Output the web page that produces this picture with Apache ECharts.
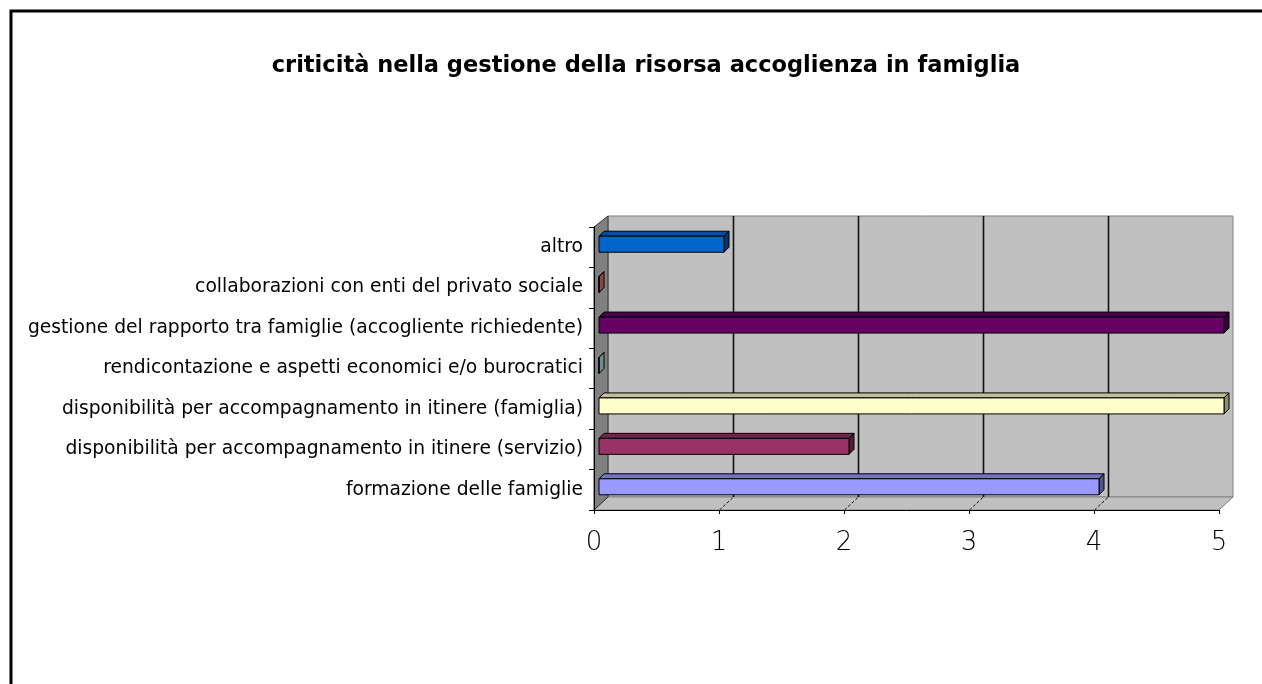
<!DOCTYPE html>
<html>
<head>
<meta charset="utf-8">
<script src="https://cdn.jsdelivr.net/npm/echarts@6.0.0/dist/echarts.min.js"></script>
<style>
  html, body { margin: 0; padding: 0; background: #fff; }
  #chart { width: 1262px; height: 684px; }
</style>
</head>
<body>
<div id="chart"></div>
<script>
// categories from top to bottom, as in the picture
var categories = [
  'altro',
  'collaborazioni con enti del privato sociale',
  'gestione del rapporto tra famiglie (accogliente richiedente)',
  'rendicontazione e aspetti economici e/o burocratici',
  'disponibilità per accompagnamento in itinere (famiglia)',
  'disponibilità per accompagnamento in itinere (servizio)',
  'formazione delle famiglie'
];
var values = [1, 0, 5, 0, 5, 2, 4];
var barColors = ['#0066CC', '#FF8080', '#660066', '#CCFFFF', '#FFFFCC', '#993366', '#9999FF'];
var xTicks = [0, 1, 2, 3, 4, 5];

var titleText = 'criticità nella gestione della risorsa accoglienza in famiglia';

// depth of the 3d box and of the bars
var DX = 14, DYT = -11, DYB = -13;
var BAR_D = 5, BAR_H = 16;

function shade(hex, f) {
  var n = parseInt(hex.slice(1), 16);
  var r = Math.round(((n >> 16) & 255) * f);
  var g = Math.round(((n >> 8) & 255) * f);
  var b = Math.round((n & 255) * f);
  return 'rgb(' + r + ',' + g + ',' + b + ')';
}

function renderWall(params, api) {
  var cs = params.coordSys;
  var L = cs.x, T = cs.y, R = cs.x + cs.width, B = cs.y + cs.height;
  var children = [];
  // back wall
  children.push({
    type: 'polygon',
    shape: { points: [[L + DX, T + DYT], [R + DX, T + DYT], [R + DX, B + DYB], [L + DX, B + DYB]] },
    style: { fill: '#C0C0C0', stroke: '#808080', lineWidth: 1 }
  });
  // floor
  children.push({
    type: 'polygon',
    shape: { points: [[L, B], [L + DX, B + DYB], [R + DX, B + DYB], [R, B]] },
    style: { fill: '#C0C0C0', stroke: '#808080', lineWidth: 1 }
  });
  // side wall
  children.push({
    type: 'polygon',
    shape: { points: [[L, T], [L + DX, T + DYT], [L + DX, B + DYB], [L, B]] },
    style: { fill: '#808080', stroke: '#333', lineWidth: 1 }
  });
  xTicks.forEach(function (t) {
    if (t <= 0 || t >= xTicks[xTicks.length - 1]) return;
    var x = Math.round(api.coord([t, 0])[0]) + 0.5;
    children.push({
      type: 'line',
      shape: { x1: x + DX, y1: T + DYT, x2: x + DX, y2: B + DYB },
      style: { stroke: '#111', lineWidth: 1.6 }
    });
    children.push({
      type: 'line',
      shape: { x1: x, y1: B, x2: x + DX, y2: B + DYB },
      style: { stroke: '#111', lineWidth: 1, lineDash: [3, 2] }
    });
  });
  return { type: 'group', children: children };
}

function renderBar(params, api) {
  var v = api.value(0), c = api.value(1);
  var s = api.coord([0, c]);
  var e = api.coord([v, c]);
  var x0 = s[0] + BAR_D, x1 = e[0] + BAR_D;
  var yc = s[1] - 3;
  var y0 = yc - BAR_H / 2, y1 = yc + BAR_H / 2;
  var col = barColors[params.dataIndex];
  var edge = { stroke: '#000', lineWidth: 1 };
  return {
    type: 'group',
    children: [
      {
        type: 'polygon',
        shape: { points: [[x0, y0], [x0 + BAR_D, y0 - BAR_D], [x1 + BAR_D, y0 - BAR_D], [x1, y0]] },
        style: Object.assign({ fill: shade(col, 0.75) }, edge)
      },
      {
        type: 'polygon',
        shape: { points: [[x1, y0], [x1 + BAR_D, y0 - BAR_D], [x1 + BAR_D, y1 - BAR_D], [x1, y1]] },
        style: Object.assign({ fill: shade(col, 0.55) }, edge)
      },
      {
        type: 'rect',
        shape: { x: x0, y: y0, width: x1 - x0, height: BAR_H },
        style: Object.assign({ fill: col }, edge)
      }
    ]
  };
}

var chart = echarts.init(document.getElementById('chart'), null, { renderer: 'canvas' });

var option = {
  animation: false,
  backgroundColor: '#fff',
  title: {
    text: titleText,
    left: 641,
    textAlign: 'center',
    top: 50,
    textStyle: { fontFamily: 'DejaVu Sans', fontWeight: 'bold', fontSize: 22.5, color: '#000' }
  },
  graphic: [{
    type: 'rect',
    shape: { x: 11, y: 11, width: 1300, height: 700 },
    style: { fill: 'none', stroke: '#000', lineWidth: 3 },
    z: 100
  }],
  grid: { left: 594, right: 43, top: 227, bottom: 174 },
  xAxis: {
    type: 'value',
    min: 0,
    max: 5,
    interval: 1,
    z: 10,
    axisLine: { show: true, lineStyle: { color: '#000', width: 1 } },
    axisTick: { show: true, length: 4, lineStyle: { color: '#000' } },
    splitLine: { show: false },
    axisLabel: { fontFamily: 'DejaVu Sans', fontWeight: 200, fontSize: 26, color: '#000', margin: 20 }
  },
  yAxis: {
    type: 'category',
    data: categories,
    inverse: true,
    z: 10,
    axisLine: { show: true, lineStyle: { color: '#000', width: 1 } },
    axisTick: { show: true, length: 5, lineStyle: { color: '#000' } },
    axisLabel: { fontFamily: 'DejaVu Sans', fontSize: 18.7, color: '#000', margin: 11 }
  },
  series: [
    {
      type: 'custom',
      silent: true,
      z: 1,
      renderItem: renderWall,
      data: [[0, 0]],
      encode: { x: 0, y: 1 }
    },
    {
      type: 'custom',
      z: 3,
      renderItem: renderBar,
      data: values.map(function (v, i) { return [v, i]; }),
      encode: { x: 0, y: 1 }
    }
  ]
};

chart.setOption(option);
</script>
</body>
</html>
